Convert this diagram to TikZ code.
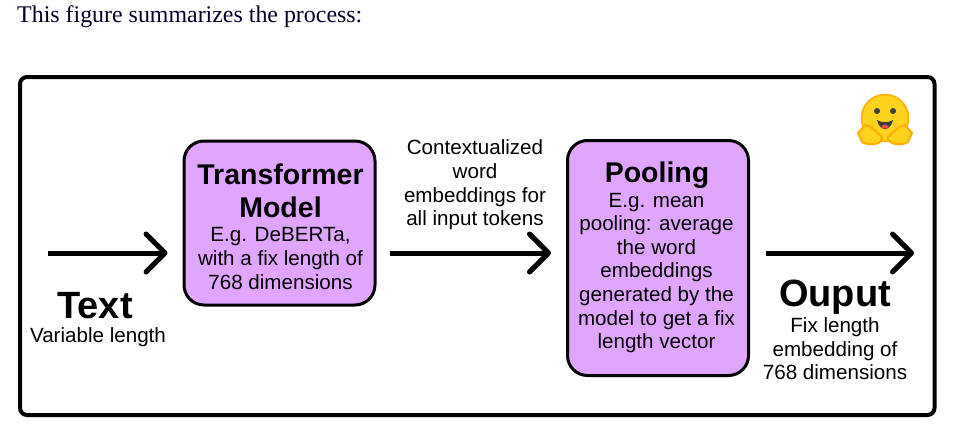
\documentclass[tikz,border=0pt]{standalone}
\usepackage{fontspec}
\setmainfont{Liberation Sans}
\newfontfamily\introfont{Liberation Serif}
\usetikzlibrary{arrows.meta}
\definecolor{boxpurple}{HTML}{E0A6FF}
\definecolor{hugyellow}{HTML}{FFD21E}
\definecolor{hugorange}{HTML}{FFAC03}
\definecolor{hugdark}{HTML}{3A3B45}
\definecolor{hugred}{HTML}{EF4E4E}
\tikzset{
    stagebox/.style={draw=black, line width=3pt, fill=boxpurple, rounded corners=20pt},
    bodytext/.style={inner sep=0pt, align=center, font=\fontsize{20.6}{23.6}\selectfont},
    boxtitle/.style={inner sep=0pt, align=center, font=\fontsize{28.5}{33}\selectfont\bfseries},
    bigtitle/.style={inner sep=0pt, font=\fontsize{38}{38}\selectfont\bfseries},
    flowarrow/.style={line width=5pt, -{Straight Barb[length=19pt,width=38pt,round]}}
}
\begin{document}
\begin{tikzpicture}[x=1pt,y=-1pt]
    \useasboundingbox (0,0) rectangle (962,439);
    \fill[white] (0,0) rectangle (962,439);

    \node[inner sep=0pt, anchor=base west, text=black!85!blue, font=\introfont\fontsize{23.9}{28}\selectfont] (intro) at (17,23) {This figure summarizes the process:};

    \draw[line width=4pt, rounded corners=7pt] (20,77) rectangle (934.5,415);

    \node[stagebox, minimum width=191pt, minimum height=164pt] (model) at (279.5,223) {};
    \node[stagebox, minimum width=181pt, minimum height=235pt] (pooling) at (658,258) {};

    \node[boxtitle] (modeltitle) at (280.5,191) {Transformer\\Model};
    \node[bodytext] (modelbody) at (280.5,258.5) {E.g. DeBERTa,\\with a fix length of\\768 dimensions};
    \node[boxtitle] (poolingtitle) at (657,175) {Pooling};
    \node[bodytext] (poolingbody) at (656.5,273) {E.g. mean\\pooling: average\\the word\\embeddings\\generated by the\\model to get a fix\\length vector};

    \node[bigtitle] (texttitle) at (95,305.5) {Text};
    \node[bodytext] (textbody) at (98,337) {Variable length};
    \node[bodytext] (context) at (475,185) {Contextualized\\word\\embeddings for\\all input tokens};
    \node[bigtitle] (outputtitle) at (835,297) {Ouput};
    \node[bodytext] (outputbody) at (835,349) {Fix length\\embedding of\\768 dimensions};

    \coordinate (instart) at (48,253);
    \coordinate (outend) at (914,253);

    \draw[flowarrow, shorten >=15pt] (instart) -- (instart -| model.west);
    \draw[flowarrow, shorten <=13pt, shorten >=15pt] (instart -| model.east) -- (instart -| pooling.west);
    \draw[flowarrow, shorten <=16pt] (instart -| pooling.east) -- (outend);

    \fill[hugyellow, draw=hugorange, line width=1.5pt] (885,118) circle (23.5);
    \fill[hugdark] (877,111) circle (3);
    \fill[hugdark] (893,111) circle (3);
    \fill[hugdark] (877,120) .. controls (880,132) and (890,132) .. (893,120) .. controls (888,123) and (882,123) .. (877,120);
    \fill[hugred] (881,127) .. controls (883,124) and (887,124) .. (889,127) .. controls (887,129) and (883,129) .. (881,127);
    \fill[hugyellow, draw=hugorange, line width=2pt, line join=round] (858,133) -- (865,125) -- (871,127) -- (882,137) .. controls (883,145) and (868,146) .. (862,142) -- cycle;
    \fill[hugyellow, draw=hugorange, line width=2pt, line join=round] (912,133) -- (905,125) -- (899,127) -- (888,137) .. controls (887,145) and (902,146) .. (908,142) -- cycle;
\end{tikzpicture}
\end{document}
